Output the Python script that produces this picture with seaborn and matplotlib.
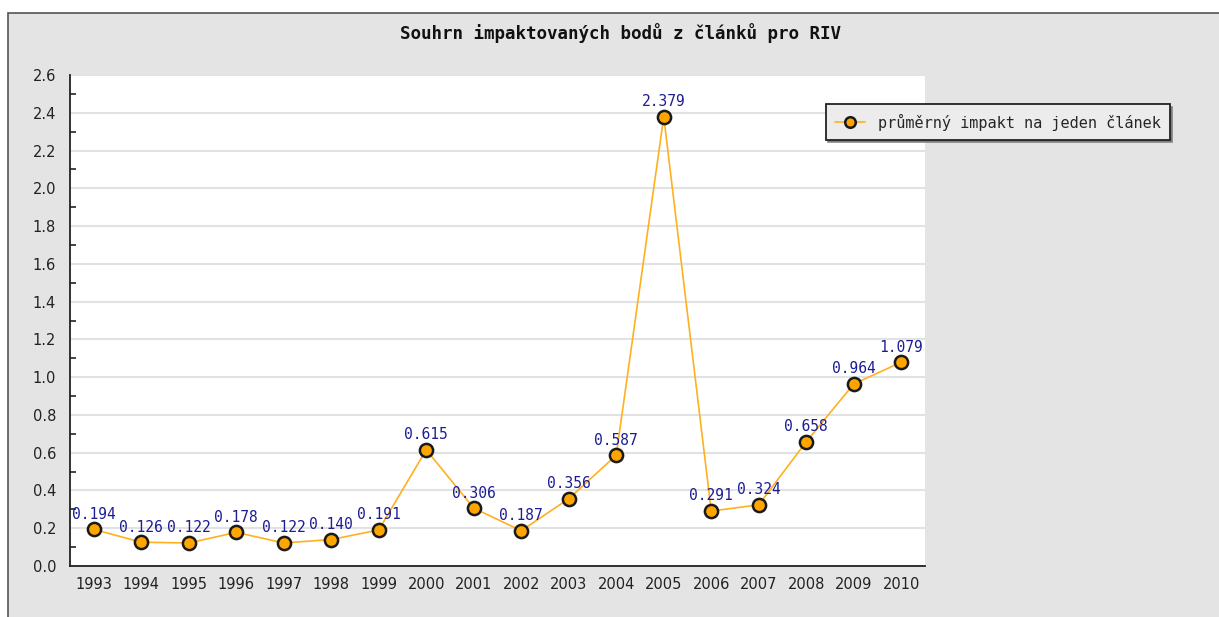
import matplotlib
matplotlib.use("Agg")
import matplotlib.pyplot as plt
import seaborn as sns
import pandas as pd
from matplotlib.patches import Rectangle
from matplotlib.ticker import MultipleLocator

years = [1993, 1994, 1995, 1996, 1997, 1998, 1999, 2000, 2001, 2002,
         2003, 2004, 2005, 2006, 2007, 2008, 2009, 2010]
values = [0.194, 0.126, 0.122, 0.178, 0.122, 0.140, 0.191, 0.615, 0.306, 0.187,
          0.356, 0.587, 2.379, 0.291, 0.324, 0.658, 0.964, 1.079]
labels = ["0.194", "0.126", "0.122", "0.178", "0.122", "0.140", "0.191", "0.615", "0.306", "0.187",
          "0.356", "0.587", "2.379", "0.291", "0.324", "0.658", "0.964", "1.079"]
series_name = "průměrný impakt na jeden článek"
title = "Souhrn impaktovaných bodů z článků pro RIV"

df = pd.DataFrame({"rok": years, "hodnota": values})

sns.set_theme(style="white")
plt.rcParams['font.family'] = ['DejaVu Sans']

W, H = 1219, 617
fig = plt.figure(figsize=(W / 100, H / 100), dpi=100, facecolor="white")
bg = Rectangle((8 / W, -0.01), 1.0, (H - 13) / H + 0.01,
               transform=fig.transFigure, facecolor="#e4e4e4",
               edgecolor="#555555", linewidth=1.2, zorder=-10)
fig.patches.append(bg)

ax = fig.add_axes([70 / W, (H - 566) / H, (925 - 70) / W, (566 - 75) / H])
ax.set_facecolor("white")
ax.set_zorder(1)

sns.lineplot(data=df, x="rok", y="hodnota", ax=ax, color="#ffb020", linewidth=1.2,
             marker="o", markersize=9.5, markerfacecolor="#ffa500",
             markeredgecolor="#1a1a1a", markeredgewidth=1.8, label=series_name,
             zorder=3)

for x, y, t in zip(years, values, labels):
    ax.annotate(t, (x, y), xytext=(0, 5.5), textcoords="offset points",
                ha="center", va="bottom", color="#1c1c94", fontsize=10.5,
                family="DejaVu Sans Mono", zorder=4)

ax.set_xlim(years[0] - 0.5, years[-1] + 0.5)
ax.set_ylim(0, 2.6)
ax.set_xticks(years)
ax.set_xticklabels([str(y) for y in years])
ax.yaxis.set_major_locator(MultipleLocator(0.2))
ax.yaxis.set_minor_locator(MultipleLocator(0.1))
ax.yaxis.set_major_formatter(matplotlib.ticker.FormatStrFormatter("%.1f"))
ax.grid(axis="y", which="major", color="#e2e2e2", linewidth=1.5)
ax.set_axisbelow(True)
ax.tick_params(axis="both", which="both", direction="in", color="#222222",
               labelsize=10.5, labelcolor="#222222")
ax.tick_params(axis="y", which="major", length=7, width=1.2, pad=10)
ax.tick_params(axis="y", which="minor", length=4, width=1.2, left=True)
ax.tick_params(axis="x", which="major", length=7, width=1.2, pad=8)
ax.set_xlabel("")
ax.set_ylabel("")
for s in ["top", "right"]:
    ax.spines[s].set_visible(False)
for s in ["left", "bottom"]:
    ax.spines[s].set_color("#222222")
    ax.spines[s].set_linewidth(1.3)

fig.text(620 / W, 1 - 33 / H, title, ha="center", va="center",
         fontsize=12.6, fontweight="bold", family="DejaVu Sans Mono", color="#111111")

leg = ax.legend(loc="center left", bbox_to_anchor=(818 / W, 1 - 122 / H),
                bbox_transform=fig.transFigure, frameon=True, fancybox=False,
                shadow={"color": "#777777", "alpha": 0.8}, facecolor="#ececec", edgecolor="#222222",
                prop={"family": "DejaVu Sans Mono", "size": 11},
                handlelength=2.0, borderpad=0.6, markerscale=0.8)
leg.get_frame().set_linewidth(1.3)
leg.get_frame().set_alpha(1.0)

fig.savefig("out.png", dpi=100, facecolor=fig.get_facecolor())
